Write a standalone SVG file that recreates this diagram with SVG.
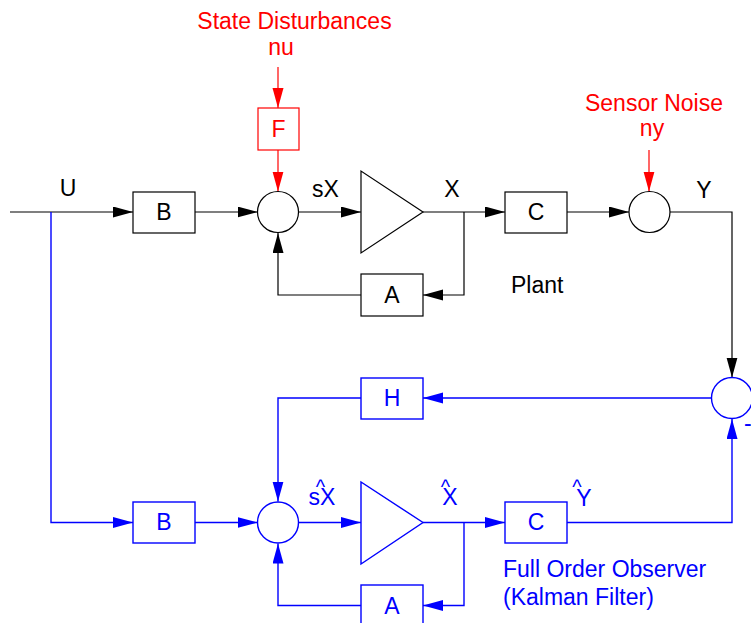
<svg xmlns="http://www.w3.org/2000/svg" width="751" height="623" viewBox="0 0 751 623">
<defs>
<marker id="ak" markerUnits="userSpaceOnUse" markerWidth="21" markerHeight="12" refX="20" refY="5.5" orient="auto"><path d="M0,0 L20,5.5 L0,11 z" fill="#000"/></marker>
<marker id="ar" markerUnits="userSpaceOnUse" markerWidth="21" markerHeight="12" refX="20" refY="5.5" orient="auto"><path d="M0,0 L20,5.5 L0,11 z" fill="#ff0000"/></marker>
<marker id="ab" markerUnits="userSpaceOnUse" markerWidth="21" markerHeight="12" refX="20" refY="5.5" orient="auto"><path d="M0,0 L20,5.5 L0,11 z" fill="#0000ff"/></marker>
</defs>
<style>
text{font-family:"Liberation Sans",Arial,sans-serif;font-size:23px}
.k{fill:none;stroke:#000;stroke-width:1.2}
.r{fill:none;stroke:#ff0000;stroke-width:1.2}
.b{fill:none;stroke:#0000ff;stroke-width:1.4}
.kb{fill:#fff;stroke:#000;stroke-width:1.2}
.rb{fill:#fff;stroke:#ff0000;stroke-width:1.2}
.bb{fill:#fff;stroke:#0000ff;stroke-width:1.4}
.tk{fill:#000}
.tr{fill:#ff0000}
.tb{fill:#0000ff}
.c{text-anchor:middle}
.h{font-size:20px}
.ck{marker-end:url(#ak)}
.cr{marker-end:url(#ar)}
.cb{marker-end:url(#ab)}
</style>
<rect width="751" height="623" fill="#fff"/>
<g id="connectors">
<path class="k ck" d="M10,212 H133"/>
<path class="k ck" d="M195,212 H257.5"/>
<path class="k ck" d="M299,212 H361"/>
<path class="k ck" d="M423,212 H505"/>
<path class="k ck" d="M464,212 V295 H423"/>
<path class="k ck" d="M361,295 H278 V233"/>
<path class="k ck" d="M567,212 H629"/>
<path class="k ck" d="M670,212 H732 V377.5"/>
<path class="r cr" d="M278,67 V108"/>
<path class="r cr" d="M278,150 V191.5"/>
<path class="r cr" d="M649,150 V191.5"/>
<path class="b cb" d="M51,212 V522.5 H133"/>
<path class="b cb" d="M195,522.5 H257.5"/>
<path class="b cb" d="M299,522.5 H361"/>
<path class="b cb" d="M423,522.5 H505"/>
<path class="b cb" d="M464,522.5 V605.5 H423"/>
<path class="b cb" d="M361,605.5 H278 V543.5"/>
<path class="b cb" d="M567,522.5 H732 V419"/>
<path class="b cb" d="M711.5,398 H423"/>
<path class="b cb" d="M361,398 H278 V501.5"/>
</g>
<g id="labels">
<text class="tr c" x="294.5" y="29">State Disturbances</text>
<text class="tr c" x="281" y="55">nu</text>
<text class="tr c" x="654" y="111">Sensor Noise</text>
<text class="tr c" x="652" y="136">ny</text>
<text class="tk c" x="68" y="196">U</text>
<text class="tk c" x="325.5" y="197">sX</text>
<text class="tk c" x="452" y="197">X</text>
<text class="tk c" x="704" y="198">Y</text>
<text class="tk" x="511" y="293">Plant</text>
<text class="tb c" x="322" y="505">sX</text>
<text class="tb c h" x="320.5" y="494">^</text>
<text class="tb c" x="450" y="505">X</text>
<text class="tb c h" x="445.5" y="494">^</text>
<text class="tb c" x="584" y="506">Y</text>
<text class="tb c h" x="577" y="494">^</text>
<text class="tb" x="503" y="577">Full Order Observer</text>
<text class="tb" x="503" y="605">(Kalman Filter)</text>
<text class="tb" x="744" y="431">-</text>
</g>
<g id="B_top"><rect class="kb" x="133" y="192" width="62" height="41"/><text class="tk c" x="164" y="220">B</text></g>
<g id="F"><rect class="rb" x="258" y="108" width="41" height="42"/><text class="tr c" x="278.5" y="137">F</text></g>
<g id="sum_top"><circle class="kb" cx="278" cy="212" r="20.5"/></g>
<g id="int_top"><path class="kb" d="M361,171 L361,253 L423,212 z"/></g>
<g id="C_top"><rect class="kb" x="505" y="192" width="62" height="41"/><text class="tk c" x="536" y="220">C</text></g>
<g id="A_top"><rect class="kb" x="361" y="274" width="62" height="42"/><text class="tk c" x="392" y="303">A</text></g>
<g id="sum_noise"><circle class="kb" cx="649.5" cy="212" r="20.5"/></g>
<g id="sum_err"><circle class="bb" cx="732" cy="398" r="20.5"/></g>
<g id="H"><rect class="bb" x="361" y="378" width="62" height="41"/><text class="tb c" x="392" y="406">H</text></g>
<g id="B_obs"><rect class="bb" x="133" y="502" width="62" height="41"/><text class="tb c" x="164" y="530">B</text></g>
<g id="sum_obs"><circle class="bb" cx="278" cy="522.5" r="20.5"/></g>
<g id="int_obs"><path class="bb" d="M361,482 L361,564 L423,522.5 z"/></g>
<g id="C_obs"><rect class="bb" x="505" y="502" width="62" height="41"/><text class="tb c" x="536" y="530">C</text></g>
<g id="A_obs"><rect class="bb" x="361" y="585" width="62" height="42"/><text class="tb c" x="392" y="614">A</text></g>
</svg>
